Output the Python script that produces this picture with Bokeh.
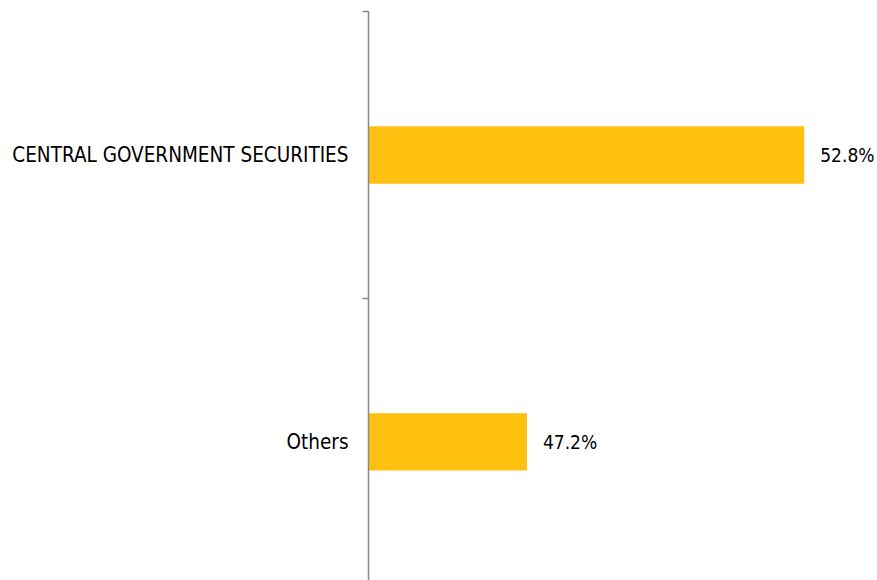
from bokeh.plotting import figure
from bokeh.models import Range1d, FixedTicker, ColumnDataSource
from bokeh.core.properties import value
from bokeh.embed import file_html
from bokeh.resources import INLINE

categories = ["CENTRAL GOVERNMENT SECURITIES", "Others"]
values = [52.8, 47.2]
value_labels = ["52.8%", "47.2%"]

FONT = "DejaVu Sans Condensed"
n = len(categories)
ypos = [n - i - 0.5 for i in range(n)]
x_start = 44.0

src = ColumnDataSource(dict(y=ypos, v=values, lab=value_labels, cat=categories))

p = figure(width=877, height=580, output_backend="svg", toolbar_location=None,
           x_range=Range1d(x_start, 54.28), y_range=Range1d(0.017, n),
           x_axis_location=None, min_border_left=368, min_border_right=0,
           min_border_top=11, min_border_bottom=0)
p.outline_line_color = None
p.xgrid.visible = False
p.ygrid.visible = False
p.background_fill_color = "white"
p.border_fill_color = "white"

p.hbar(y="y", left=x_start, right="v", height=0.2, source=src,
       fill_color="#FFC010", line_color=None)

p.text(x="v", y="y", text="lab", source=src, x_offset=16,
       text_align="left", text_baseline="middle",
       text_font=value(FONT), text_font_size="19px", text_color="black")

ax = p.yaxis[0]
ax.ticker = FixedTicker(ticks=ypos, minor_ticks=[float(k) for k in range(n + 1)])
ax.major_label_overrides = {y: c for y, c in zip(ypos, categories)}
ax.major_tick_out = 0
ax.major_tick_in = 0
ax.minor_tick_out = 6
ax.minor_tick_in = 0
ax.minor_tick_line_color = "#888888"
ax.minor_tick_line_width = 1.5
ax.axis_line_color = "#888888"
ax.axis_line_width = 1.5
ax.major_label_standoff = 14
ax.major_label_text_font = FONT
ax.major_label_text_font_size = "20.5px"
ax.major_label_text_color = "black"

open("out.html", "w").write(file_html(p, INLINE))
